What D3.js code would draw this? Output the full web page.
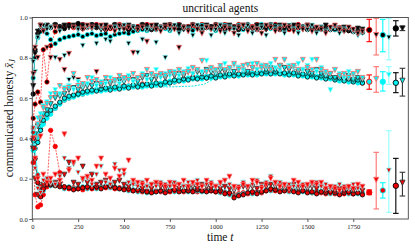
<!DOCTYPE html>
<html><head><meta charset="utf-8">
<script src="https://cdn.jsdelivr.net/npm/d3@7"></script>
<style>html,body{margin:0;padding:0;background:#fff;} svg{display:block;}</style>
</head><body><svg id="c" width="415" height="249"></svg>
<script>
// ---------- data ----------
const timesEarly = [5, 15, 30, 45, 60, 80, 100];
const times = timesEarly.concat(d3.range(125, 1801, 25)); // 75 time stamps

// top group (black face)
const topCircK = [
0.62,0.84,0.92,0.94,0.95,0.955,0.95,0.965,0.955,0.945,0.96,0.955,0.97,0.945,0.955,
0.965,0.95,0.955,0.94,0.95,0.965,0.955,0.95,0.94,0.955,0.95,0.965,0.95,0.94,0.955,
0.95,0.955,0.965,0.95,0.94,0.955,0.95,0.965,0.955,0.94,0.95,0.955,0.965,0.95,0.94,
0.955,0.95,0.94,0.955,0.965,0.95,0.94,0.95,0.955,0.965,0.95,0.94,0.955,0.95,0.945,
0.95,0.955,0.94,0.95,0.94,0.945,0.95,0.94,0.945,0.935,0.94,0.935,0.93,0.935,0.925];
const topCircC = [
0.70,0.80,0.90,0.93,0.935,0.92,0.89,0.87,0.89,0.90,0.905,0.91,0.915,0.905,0.915,
0.92,0.91,0.915,0.92,0.905,0.915,0.92,0.925,0.92,0.93,0.935,0.94,0.935,0.945,0.94,
0.95,0.945,0.935,0.95,0.96,0.945,0.95,0.935,0.945,0.96,0.95,0.945,0.935,0.95,0.96,
0.945,0.95,0.96,0.94,0.945,0.95,0.955,0.965,0.95,0.945,0.955,0.95,0.94,0.955,0.95,
0.945,0.95,0.955,0.945,0.95,0.94,0.945,0.95,0.94,0.945,0.935,0.94,0.935,0.93,0.935];
const topCircR = [
0.50,0.57,0.63,0.58,0.84,0.68,0.86,0.93,0.945,0.955,0.965,0.95,0.955,0.965,0.95,
0.955,0.965,0.95,0.955,0.945,0.95,0.965,0.955,0.95,0.94,0.955,0.95,0.965,0.955,0.945,
0.955,0.95,0.945,0.955,0.965,0.95,0.955,0.945,0.95,0.965,0.955,0.95,0.945,0.955,0.965,
0.95,0.955,0.965,0.95,0.945,0.955,0.965,0.95,0.945,0.955,0.965,0.955,0.95,0.94,0.955,
0.965,0.95,0.945,0.955,0.95,0.945,0.955,0.945,0.94,0.95,0.94,0.935,0.94,0.93,0.935];
const topTriR = [
0.72,0.85,0.80,0.96,0.93,0.85,0.80,0.95,0.79,0.74,0.82,0.95,0.69,0.94,0.96,
0.95,0.73,0.96,0.94,0.95,0.93,0.96,0.94,0.95,0.825,0.94,0.95,0.88,0.96,0.94,
0.93,0.95,0.96,0.94,0.85,0.95,0.93,0.96,0.94,0.92,0.95,0.94,0.96,0.93,0.95,
0.94,0.92,0.95,0.96,0.93,0.95,0.94,0.92,0.96,0.95,0.93,0.94,0.96,0.95,0.93,
0.95,0.94,0.96,0.93,0.95,0.94,0.92,0.95,0.96,0.94,0.93,0.95,0.94,0.92,0.93];
const topTriC = [
0.78,0.73,0.90,0.95,0.96,0.94,0.95,0.80,0.93,0.81,0.69,0.70,0.94,0.86,0.95,
0.94,0.87,0.95,0.89,0.88,0.95,0.94,0.96,0.87,0.95,0.825,0.89,0.94,0.95,0.875,
0.95,0.80,0.94,0.96,0.92,0.95,0.94,0.91,0.96,0.94,0.95,0.91,0.94,0.96,0.92,
0.95,0.94,0.91,0.95,0.96,0.92,0.94,0.95,0.91,0.96,0.94,0.95,0.92,0.96,0.94,
0.92,0.95,0.94,0.96,0.92,0.95,0.93,0.94,0.95,0.92,0.94,0.95,0.93,0.91,0.92];
const topTriK = [
0.66,0.82,0.93,0.96,0.95,0.96,0.95,0.96,0.95,0.96,0.95,0.96,0.94,0.96,0.95,
0.96,0.95,0.94,0.96,0.95,0.96,0.94,0.95,0.96,0.95,0.94,0.96,0.95,0.94,0.96,
0.95,0.96,0.94,0.95,0.96,0.94,0.95,0.96,0.95,0.94,0.96,0.95,0.94,0.96,0.95,
0.96,0.95,0.94,0.96,0.95,0.94,0.96,0.95,0.94,0.96,0.95,0.96,0.94,0.95,0.96,
0.95,0.94,0.96,0.95,0.94,0.95,0.96,0.94,0.95,0.94,0.95,0.94,0.93,0.945,0.94];

// middle group (cyan face)
const midCircK = [
0.36,0.35,0.38,0.44,0.49,0.52,0.54,0.56,0.58,0.60,0.61,0.615,0.62,0.63,0.635,
0.64,0.635,0.645,0.65,0.64,0.655,0.645,0.66,0.65,0.665,0.655,0.665,0.67,0.66,0.675,
0.665,0.68,0.675,0.69,0.685,0.695,0.69,0.70,0.695,0.705,0.70,0.71,0.70,0.715,0.705,
0.72,0.71,0.72,0.715,0.725,0.715,0.725,0.72,0.73,0.72,0.73,0.72,0.725,0.715,0.725,
0.71,0.72,0.705,0.715,0.70,0.71,0.695,0.705,0.69,0.70,0.685,0.695,0.68,0.69,0.675];
const midCircC = [
0.34,0.38,0.42,0.46,0.47,0.50,0.52,0.55,0.57,0.59,0.60,0.605,0.615,0.62,0.625,
0.63,0.645,0.635,0.64,0.65,0.645,0.655,0.65,0.66,0.655,0.665,0.655,0.66,0.67,0.665,
0.675,0.67,0.685,0.68,0.695,0.685,0.70,0.695,0.705,0.695,0.71,0.70,0.71,0.705,0.715,
0.71,0.72,0.71,0.725,0.715,0.725,0.715,0.73,0.72,0.73,0.72,0.73,0.715,0.725,0.715,
0.72,0.71,0.715,0.705,0.71,0.70,0.705,0.695,0.70,0.685,0.695,0.68,0.69,0.675,0.68];
const midCircR = [
0.35,0.37,0.40,0.45,0.48,0.51,0.53,0.55,0.575,0.59,0.60,0.61,0.625,0.62,0.63,
0.635,0.64,0.64,0.645,0.65,0.65,0.66,0.655,0.66,0.66,0.66,0.67,0.665,0.665,0.67,
0.67,0.675,0.68,0.68,0.69,0.695,0.695,0.705,0.70,0.70,0.70,0.705,0.71,0.71,0.71,
0.715,0.72,0.715,0.72,0.72,0.725,0.72,0.725,0.725,0.73,0.725,0.725,0.72,0.72,0.72,
0.715,0.715,0.71,0.715,0.705,0.705,0.70,0.70,0.695,0.69,0.69,0.685,0.685,0.68,0.675];
const midTriR = [
0.44,0.40,0.47,0.50,0.55,0.57,0.60,0.62,0.66,0.64,0.65,0.72,0.66,0.67,0.70,
0.68,0.69,0.67,0.70,0.68,0.69,0.71,0.70,0.69,0.72,0.70,0.71,0.74,0.72,0.71,
0.72,0.71,0.73,0.72,0.74,0.72,0.73,0.75,0.74,0.785,0.73,0.75,0.74,0.76,0.74,
0.75,0.77,0.74,0.76,0.765,0.75,0.77,0.75,0.76,0.74,0.79,0.76,0.79,0.75,0.76,
0.74,0.79,0.75,0.74,0.79,0.74,0.73,0.72,0.74,0.71,0.72,0.70,0.72,0.73,0.70];
const midTriC = [
0.36,0.45,0.50,0.52,0.56,0.58,0.62,0.64,0.62,0.65,0.66,0.64,0.68,0.66,0.67,
0.70,0.66,0.68,0.67,0.70,0.68,0.67,0.69,0.71,0.68,0.70,0.72,0.69,0.71,0.74,
0.70,0.72,0.71,0.73,0.71,0.73,0.745,0.72,0.74,0.73,0.785,0.74,0.73,0.75,0.77,
0.74,0.76,0.75,0.74,0.765,0.77,0.74,0.76,0.75,0.77,0.75,0.74,0.79,0.76,0.75,
0.77,0.74,0.76,0.79,0.73,0.75,0.72,0.64,0.74,0.72,0.70,0.73,0.71,0.73,0.70];
const midTriK = [
0.38,0.42,0.46,0.49,0.52,0.54,0.57,0.60,0.61,0.62,0.64,0.65,0.64,0.65,0.66,
0.66,0.67,0.66,0.68,0.67,0.68,0.69,0.68,0.70,0.69,0.68,0.70,0.71,0.69,0.70,
0.71,0.70,0.72,0.71,0.72,0.71,0.73,0.72,0.73,0.72,0.74,0.73,0.72,0.74,0.73,
0.74,0.73,0.75,0.74,0.73,0.75,0.74,0.76,0.74,0.75,0.74,0.76,0.75,0.74,0.75,
0.73,0.74,0.73,0.72,0.74,0.72,0.71,0.72,0.70,0.71,0.70,0.71,0.69,0.70,0.69];

// bottom group (red face)
const botCircR = [
0.28,0.12,0.06,0.07,0.12,0.16,0.44,0.36,0.23,0.155,0.15,0.155,0.15,0.145,0.155,
0.15,0.155,0.16,0.155,0.16,0.15,0.155,0.15,0.145,0.14,0.14,0.135,0.14,0.135,0.14,
0.135,0.14,0.135,0.14,0.14,0.135,0.145,0.14,0.135,0.14,0.145,0.14,0.135,0.14,0.13,
0.125,0.12,0.125,0.13,0.125,0.13,0.135,0.13,0.14,0.145,0.14,0.145,0.14,0.145,0.14,
0.135,0.14,0.135,0.13,0.135,0.13,0.125,0.13,0.125,0.13,0.125,0.13,0.125,0.13,0.125];
const botCircC = [
0.43,0.35,0.22,0.15,0.14,0.18,0.165,0.17,0.165,0.15,0.16,0.15,0.155,0.16,0.15,
0.16,0.15,0.155,0.165,0.155,0.16,0.15,0.155,0.14,0.145,0.135,0.14,0.13,0.14,0.135,
0.14,0.135,0.145,0.135,0.145,0.14,0.135,0.145,0.14,0.135,0.14,0.145,0.14,0.13,0.135,
0.12,0.115,0.12,0.125,0.13,0.125,0.13,0.135,0.145,0.14,0.15,0.14,0.145,0.135,0.145,
0.14,0.135,0.14,0.13,0.14,0.135,0.13,0.125,0.13,0.125,0.135,0.125,0.13,0.125,0.13];
const botCircK = [
0.40,0.30,0.18,0.11,0.15,0.17,0.17,0.165,0.16,0.16,0.155,0.145,0.15,0.155,0.16,
0.155,0.16,0.15,0.16,0.165,0.155,0.15,0.145,0.15,0.14,0.145,0.14,0.135,0.13,0.135,
0.14,0.13,0.14,0.145,0.135,0.14,0.14,0.135,0.145,0.14,0.135,0.14,0.135,0.14,0.125,
0.13,0.105,0.115,0.12,0.13,0.135,0.125,0.135,0.14,0.15,0.145,0.135,0.14,0.15,0.135,
0.13,0.14,0.13,0.135,0.125,0.135,0.13,0.135,0.13,0.12,0.13,0.135,0.125,0.13,0.12];
const botTriR = [
0.40,0.30,0.20,0.41,0.22,0.18,0.20,0.22,0.19,0.42,0.24,0.28,0.30,0.20,0.21,
0.19,0.26,0.30,0.22,0.20,0.25,0.21,0.24,0.29,0.19,0.18,0.17,0.19,0.17,0.18,
0.17,0.16,0.18,0.16,0.17,0.19,0.16,0.18,0.17,0.16,0.19,0.17,0.16,0.18,0.19,
0.21,0.16,0.15,0.17,0.16,0.19,0.18,0.15,0.17,0.20,0.18,0.16,0.17,0.15,0.19,
0.18,0.16,0.17,0.18,0.17,0.18,0.15,0.16,0.15,0.14,0.15,0.16,0.15,0.17,0.16];
const botTriC = [
0.45,0.25,0.15,0.13,0.19,0.20,0.18,0.17,0.21,0.30,0.25,0.27,0.23,0.19,0.20,
0.17,0.22,0.26,0.18,0.17,0.27,0.24,0.22,0.18,0.17,0.16,0.18,0.16,0.17,0.16,
0.18,0.17,0.16,0.18,0.17,0.16,0.18,0.17,0.19,0.16,0.17,0.18,0.16,0.17,0.19,
0.17,0.15,0.16,0.18,0.16,0.17,0.19,0.16,0.18,0.21,0.17,0.18,0.16,0.17,0.16,
0.16,0.17,0.16,0.17,0.18,0.16,0.17,0.15,0.16,0.17,0.16,0.15,0.17,0.15,0.16];
const botTriK = [
0.35,0.20,0.12,0.16,0.17,0.19,0.17,0.18,0.17,0.22,0.28,0.18,0.17,0.26,0.18,
0.22,0.17,0.18,0.19,0.17,0.18,0.19,0.17,0.16,0.17,0.16,0.15,0.16,0.15,0.17,
0.16,0.15,0.16,0.17,0.15,0.16,0.15,0.16,0.15,0.17,0.16,0.15,0.16,0.15,0.16,
0.15,0.14,0.15,0.16,0.15,0.16,0.15,0.17,0.16,0.17,0.16,0.17,0.15,0.16,0.17,
0.15,0.16,0.15,0.16,0.15,0.16,0.14,0.15,0.14,0.15,0.14,0.15,0.14,0.15,0.14];

// separate dashed trend line (middle group, cyan)
const midLineTimes  = [520, 560, 600, 700, 800, 880, 940, 980];
const midLineValues = [0.665, 0.658, 0.655, 0.655, 0.657, 0.66, 0.67, 0.69];

// summary error bars (order: circle red, tri red, circle cyan, tri cyan, circle black, tri black)
const summaryTimes = [1837, 1875, 1911, 1944, 1982, 2018];
const summaryKinds = ["circ","tri","circ","tri","circ","tri"];
const summaryEdges = ["R","R","C","C","K","K"];
const sumTopMean = [0.938, 0.913, 0.913, 0.900, 0.946, 0.946];
const sumTopLo   = [0.880, 0.814, 0.830, 0.790, 0.908, 0.935];
const sumTopHi   = [0.991, 0.996, 0.991, 0.996, 0.984, 0.955];
const sumMidMean = [0.681, 0.695, 0.681, 0.715, 0.676, 0.686];
const sumMidLo   = [0.644, 0.629, 0.635, 0.668, 0.627, 0.610];
const sumMidHi   = [0.715, 0.756, 0.731, 0.756, 0.726, 0.748];
const sumBotMean = [0.132, 0.194, 0.142, 0.240, 0.165, 0.180];
const sumBotLo   = [0.121, 0.050, 0.104, 0.033, 0.028, 0.114];
const sumBotHi   = [0.144, 0.331, 0.180, 0.438, 0.301, 0.232];

const xTicks = [0, 250, 500, 750, 1000, 1250, 1500, 1750];
const yTicks = [0, 0.2, 0.4, 0.6, 0.8, 1.0];
const titleText = "uncritical agents";
const xLabel = "time ";
const yLabel = "communicated honesty ";

// ---------- drawing ----------
const W = 415, H = 249;
const m = {l: 32.3, r: 6.7, t: 17.5, b: 30};
const x = d3.scaleLinear().domain([0, 2050]).range([m.l, W - m.r]);
const y = d3.scaleLinear().domain([0, 1]).range([H - m.b, m.t]);
const svg = d3.select("#c");
const FONT = "'Liberation Serif', 'DejaVu Serif', serif";

const edgeCol = {R: "#ff0000", C: "#00ffff", K: "#000000"};
const barCol  = {circ: {R: "#ff0000", C: "#00ffff", K: "#000000"}, tri: {R: "#ff7070", C: "#90ffff", K: "#333333"}};
const faceCol = {top: "#000000", mid: "#00f2f2", bot: "#f00000"};
const lineDash = {R: "2,1.2", C: null, K: null};

const plot = svg.append("g");
const triPath = s => `M${-s},${-s}L${s},${-s}L0,${s}Z`;

const groups = [
  {g: "top", circ: {R: topCircR, C: topCircC, K: topCircK}, tri: {R: topTriR, C: topTriC, K: topTriK}},
  {g: "mid", circ: {R: midCircR, C: midCircC, K: midCircK}, tri: {R: midTriR, C: midTriC, K: midTriK}},
  {g: "bot", circ: {R: botCircR, C: botCircC, K: botCircK}, tri: {R: botTriR, C: botTriC, K: botTriK}}
];

const line = d3.line().x(d => x(d[0])).y(d => y(d[1]));
// lines through circle series
groups.forEach(G => {
  ["K", "C", "R"].forEach(k => {
    plot.append("path").datum(times.map((t, i) => [t, G.circ[k][i]]))
      .attr("d", line).attr("fill", "none").attr("stroke", edgeCol[k])
      .attr("stroke-width", 0.8).attr("stroke-opacity", 0.8)
      .attr("stroke-dasharray", lineDash[k]);
  });
});
plot.append("path").datum(midLineTimes.map((t, i) => [t, midLineValues[i]]))
  .attr("d", line).attr("fill", "none").attr("stroke", "#00e0e0")
  .attr("stroke-width", 0.9).attr("stroke-dasharray", "2,1.2");

groups.forEach(G => {
  ["R", "C", "K"].forEach(k => {
    plot.append("g").selectAll("circle").data(times.map((t, i) => [t, G.circ[k][i]]))
      .join("circle").attr("cx", d => x(d[0])).attr("cy", d => y(d[1])).attr("r", 2.2)
      .attr("fill", faceCol[G.g]).attr("stroke", edgeCol[k]).attr("stroke-width", 0.8);
  });
  ["K", "C", "R"].forEach(k => {
    plot.append("g").selectAll("path").data(times.map((t, i) => [t, G.tri[k][i]]))
      .join("path").attr("transform", d => `translate(${x(d[0])},${y(d[1])})`)
      .attr("d", triPath(2.5))
      .attr("fill", faceCol[G.g]).attr("stroke", barCol.tri[k]).attr("stroke-width", 0.8);
  });
});

// summary error bars
const sums = [
  {g: "top", mean: sumTopMean, lo: sumTopLo, hi: sumTopHi},
  {g: "mid", mean: sumMidMean, lo: sumMidLo, hi: sumMidHi},
  {g: "bot", mean: sumBotMean, lo: sumBotLo, hi: sumBotHi}
];
sums.forEach(S => {
  summaryTimes.forEach((t, i) => {
    const c = barCol[summaryKinds[i]][summaryEdges[i]];
    const gx = x(t);
    const g = plot.append("g");
    g.append("line").attr("x1", gx).attr("x2", gx).attr("y1", y(S.lo[i])).attr("y2", y(S.hi[i]))
      .attr("stroke", c).attr("stroke-width", 1.1);
    [S.lo[i], S.hi[i]].forEach(v => g.append("line").attr("x1", gx - 2.8).attr("x2", gx + 2.8)
      .attr("y1", y(v)).attr("y2", y(v)).attr("stroke", c).attr("stroke-width", 1.1));
    if (summaryKinds[i] === "circ") {
      g.append("circle").attr("cx", gx).attr("cy", y(S.mean[i])).attr("r", 2.7)
        .attr("fill", faceCol[S.g]).attr("stroke", c).attr("stroke-width", 0.9);
    } else {
      g.append("path").attr("transform", `translate(${gx},${y(S.mean[i])})`).attr("d", triPath(2.6))
        .attr("fill", faceCol[S.g]).attr("stroke", c).attr("stroke-width", 0.9);
    }
  });
});

// axes
const xAxis = svg.append("g").attr("transform", `translate(0,${H - m.b})`)
  .call(d3.axisBottom(x).tickValues(xTicks).tickSize(3).tickPadding(2.5).tickFormat(d3.format("d")));
const yAxis = svg.append("g").attr("transform", `translate(${m.l},0)`)
  .call(d3.axisLeft(y).tickValues(yTicks).tickSize(3).tickPadding(1.5).tickFormat(d3.format(".1f")));
[xAxis, yAxis].forEach(a => {
  a.select(".domain").remove();
  a.selectAll(".tick line").attr("stroke", "#333").attr("stroke-width", 0.8);
  a.selectAll(".tick text").attr("font-family", FONT).attr("font-size", 6.6).attr("fill", "#222");
});
svg.append("rect").attr("x", m.l).attr("y", m.t).attr("width", W - m.r - m.l).attr("height", H - m.b - m.t)
  .attr("fill", "none").attr("stroke", "#444").attr("stroke-width", 0.9);

// texts
svg.append("text").attr("x", (m.l + W - m.r) / 2).attr("y", 12).attr("text-anchor", "middle")
  .attr("font-family", FONT).attr("font-size", 11.5).attr("fill", "#111").text(titleText);
const xl = svg.append("text").attr("x", (m.l + W - m.r) / 2).attr("y", 240.5).attr("text-anchor", "middle")
  .attr("font-family", FONT).attr("font-size", 11.5).attr("fill", "#111");
xl.append("tspan").text(xLabel);
xl.append("tspan").attr("font-style", "italic").text("t");
const yl = svg.append("text").attr("transform", `translate(12.5,${(m.t + H - m.b) / 2}) rotate(-90)`)
  .attr("text-anchor", "middle").attr("font-family", FONT).attr("font-size", 11.5).attr("fill", "#111");
yl.append("tspan").text(yLabel);
yl.append("tspan").attr("font-style", "italic").text("x\u0304");
yl.append("tspan").attr("font-style", "italic").attr("font-size", 8).attr("dy", 2).text("J");
</script></body></html>
